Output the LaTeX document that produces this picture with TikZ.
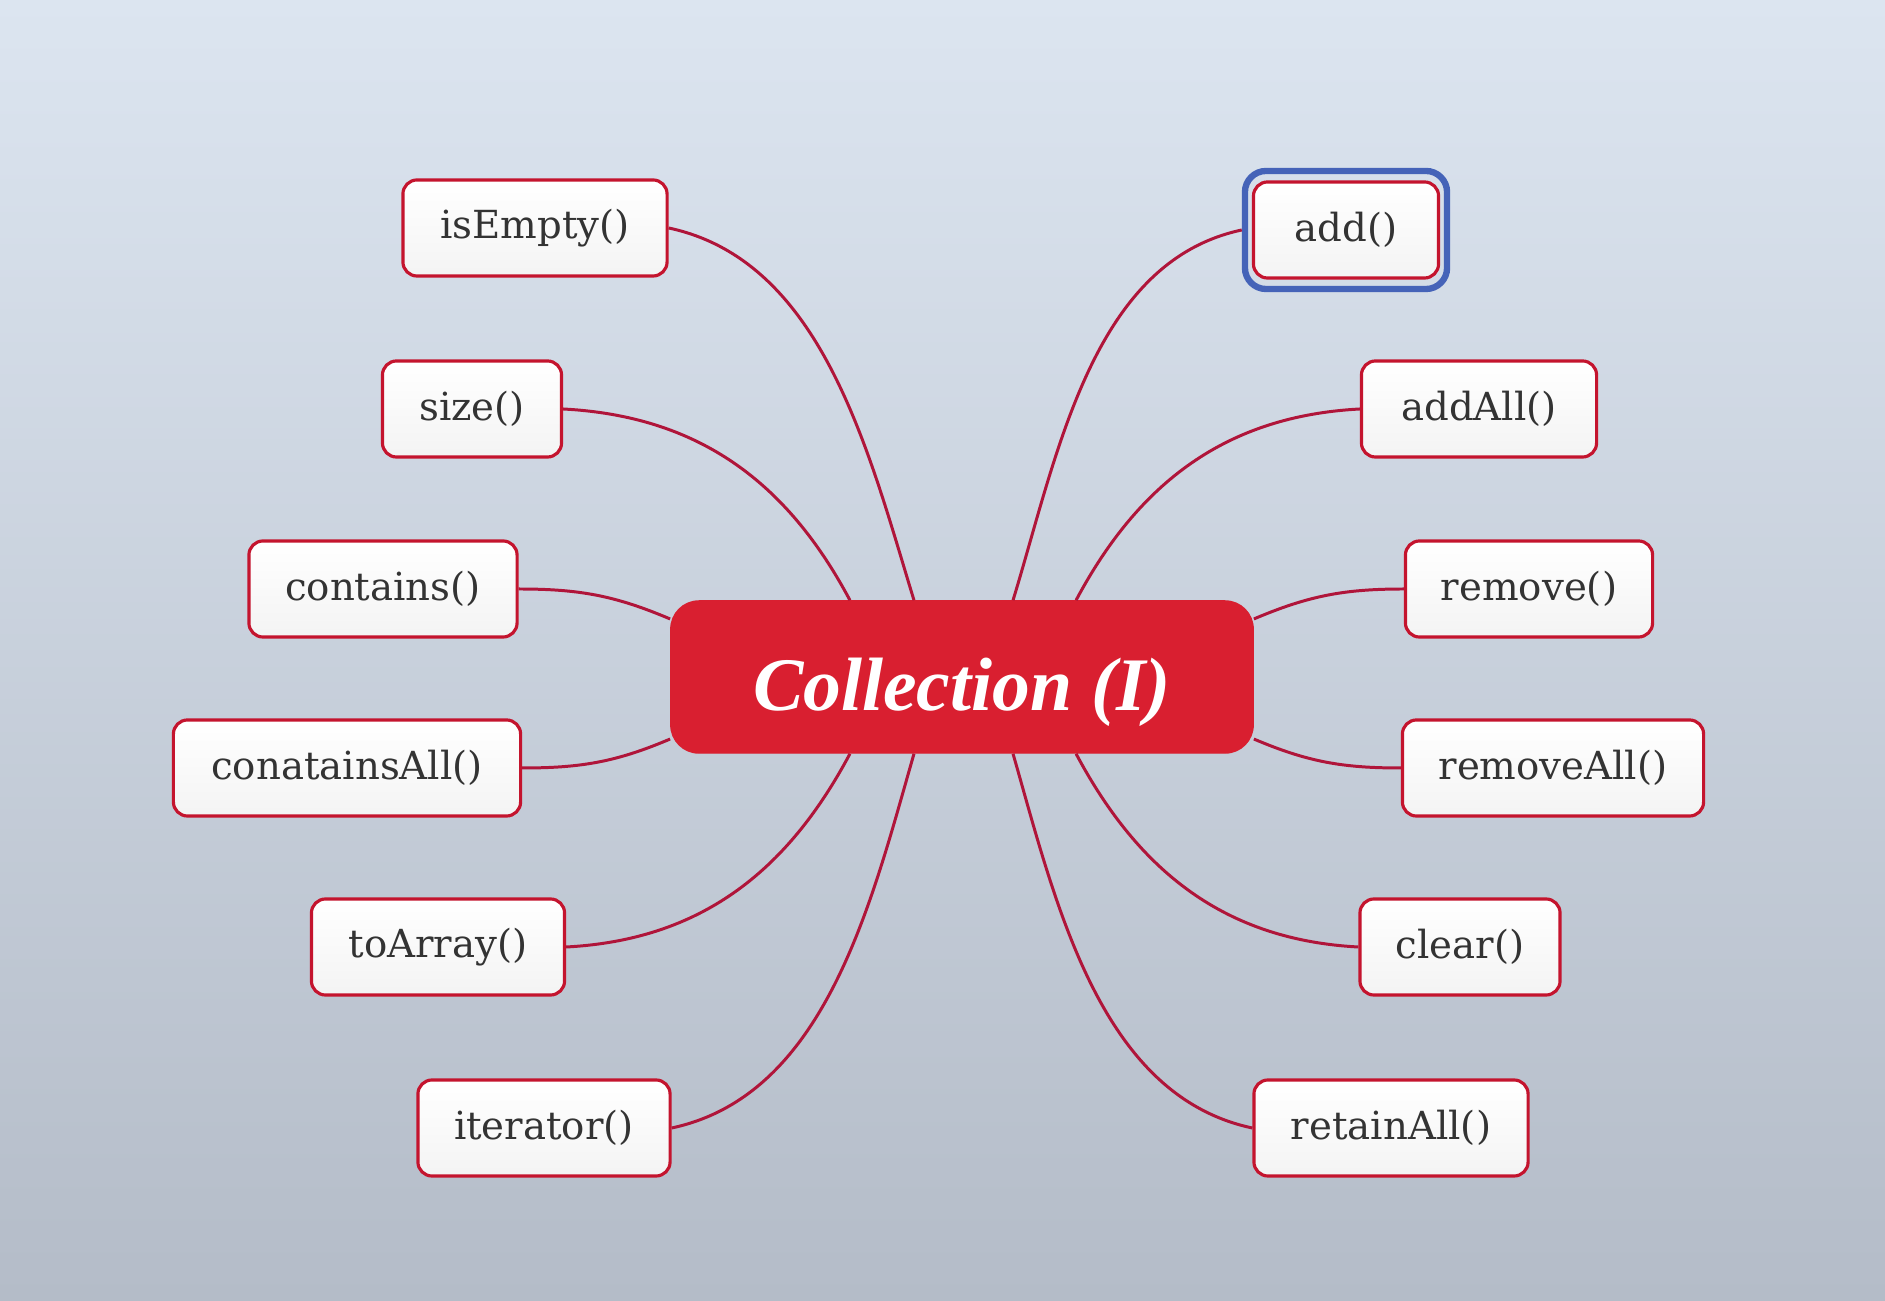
\documentclass[tikz,border=0pt]{standalone}
\usepackage{fontspec}
\setmainfont{DejaVu Serif}
\newfontfamily\titlefont{Liberation Serif}
\begin{document}
\begin{tikzpicture}[x=0.01cm,y=0.01cm,
  leaf/.style={draw=leafred, line width=0.9pt, rounded corners=4pt,
    top color=white, bottom color=gray!9, minimum height=0.96cm,
    text=txtgray, font=\fontsize{11}{13}\selectfont, inner sep=0pt},
  hub/.style={fill=hubred, draw=hubred, rounded corners=8pt,
    minimum width=5.82cm, minimum height=1.52cm, text=white,
    text height=0.83cm, text depth=0.16cm,
    font=\titlefont\bfseries\itshape\fontsize{21.5}{25}\selectfont},
  link/.style={draw=linkred, line width=0.85pt},
  sel/.style={draw=selblue, line width=1.8pt, rounded corners=6pt,
    minimum width=2.02cm, minimum height=1.18cm}]
\definecolor{leafred}{HTML}{C4142E}
\definecolor{hubred}{HTML}{D91F30}
\definecolor{linkred}{HTML}{B0153A}
\definecolor{txtgray}{HTML}{333333}
\definecolor{selblue}{HTML}{4563B8}
\definecolor{bgtop}{HTML}{DCE5F0}
\definecolor{bgmid}{HTML}{D3DDE8}
\definecolor{bgbot}{HTML}{B4BCC8}
\shade[top color=bgtop, middle color=bgmid, bottom color=bgbot] (0,0) rectangle (1885,1300);
\useasboundingbox (0,0) rectangle (1885,1300);

\node[hub] (C) at (962,623) {Collection (I)};

\node[sel] (addsel) at (1346,1070) {};

\node[leaf, minimum width=2.64cm] (isEmpty) at (535,1072) {isEmpty()};
\node[leaf, minimum width=1.79cm] (size) at (472,891) {size()};
\node[leaf, minimum width=2.68cm] (contains) at (383,711) {contains()};
\node[leaf, minimum width=3.47cm] (containsAll) at (347,532) {conatainsAll()};
\node[leaf, minimum width=2.53cm] (toArray) at (438,353) {toArray()};
\node[leaf, minimum width=2.52cm] (iterator) at (544,172) {iterator()};

\node[leaf, minimum width=1.85cm] (add) at (1346,1070) {add()};
\node[leaf, minimum width=2.35cm] (addAll) at (1479,891) {addAll()};
\node[leaf, minimum width=2.47cm] (remove) at (1529,711) {remove()};
\node[leaf, minimum width=3.01cm] (removeAll) at (1553,532) {removeAll()};
\node[leaf, minimum width=2.00cm] (clear) at (1460,353) {clear()};
\node[leaf, minimum width=2.74cm] (retainAll) at (1391,172) {retainAll()};

\coordinate (t1) at ([xshift=-0.48cm]C.north);
\coordinate (t2) at ([xshift=-1.12cm]C.north);
\coordinate (t3) at ([xshift=0.51cm]C.north);
\coordinate (t4) at ([xshift=1.14cm]C.north);
\coordinate (b1) at ([xshift=-0.48cm]C.south);
\coordinate (b2) at ([xshift=-1.12cm]C.south);
\coordinate (b3) at ([xshift=0.51cm]C.south);
\coordinate (b4) at ([xshift=1.14cm]C.south);
\coordinate (w1) at ([yshift=0.58cm]C.west);
\coordinate (w2) at ([yshift=-0.62cm]C.west);
\coordinate (e1) at ([yshift=0.58cm]C.east);
\coordinate (e2) at ([yshift=-0.62cm]C.east);

\draw[link] (isEmpty.east) to[out=-12,in=107,looseness=0.9] (t1);
\draw[link] (size.east) to[out=-3,in=118] (t2);
\draw[link] (contains.east) to[out=0,in=157] (w1);
\draw[link] (containsAll.east) to[out=0,in=203] (w2);
\draw[link] (toArray.east) to[out=3,in=242] (b2);
\draw[link] (iterator.east) to[out=12,in=254,looseness=0.9] (b1);
\draw[link] (addsel.west) to[out=192,in=73,looseness=0.9] (t3);
\draw[link] (addAll.west) to[out=183,in=62] (t4);
\draw[link] (remove.west) to[out=180,in=23] (e1);
\draw[link] (removeAll.west) to[out=180,in=-23] (e2);
\draw[link] (clear.west) to[out=177,in=-62] (b4);
\draw[link] (retainAll.west) to[out=168,in=-74,looseness=0.9] (b3);
\end{tikzpicture}
\end{document}
